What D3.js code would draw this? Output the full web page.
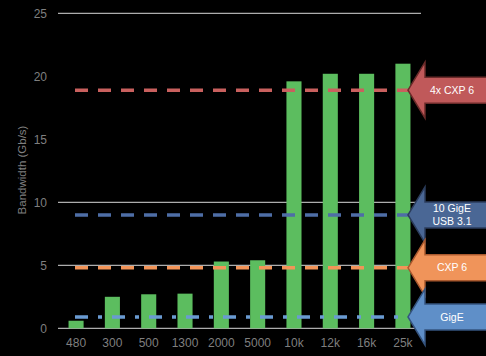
<!DOCTYPE html>
<html><head><meta charset="utf-8">
<script src="https://cdn.jsdelivr.net/npm/d3@7"></script>
<style>html,body{margin:0;padding:0;background:#000;}svg{display:block;}</style>
</head><body>
<script>
const categories = ["480","300","500","1300","2000","5000","10k","12k","16k","25k"];
const bandwidth = [0.6, 2.5, 2.7, 2.75, 5.3, 5.4, 19.6, 20.2, 20.2, 21.0];
const yTicks = [0, 5, 10, 15, 20, 25];
const gridValues = [0, 5, 10, 25];
const refNames = ["4x CXP 6", "10 GigE|USB 3.1", "CXP 6", "GigE"];
const refValues = [18.9, 9.0, 4.8, 0.9];
const refColors = ["#c9605e", "#4e6ea6", "#f29458", "#6a9bd2"];
const arrowFill = ["#c0595a", "#4a6795", "#f0945a", "#5f8fc8"];
const arrowStroke = ["#6b2b2a", "#2b3d5c", "#a9592e", "#35547f"];
const refDash = ["13,10", "13,10", "13,10", "13,10,4,10"];

const W = 486, H = 356;
const svg = d3.select("body").append("svg").attr("width", W).attr("height", H)
  .style("background", "#000");

const x = d3.scaleBand().domain(categories).range([58, 421]).paddingInner(0.585).paddingOuter(0.29);
const y = d3.scaleLinear().domain([0, 25]).range([328.3, 13.3]);

// grid lines
svg.append("g").selectAll("line").data(gridValues).join("line")
  .attr("x1", 58).attr("x2", 421)
  .attr("y1", d => y(d)).attr("y2", d => y(d))
  .attr("stroke", "#d9d9d9").attr("stroke-width", 1);

// y tick labels
svg.append("g").selectAll("text").data(yTicks).join("text")
  .attr("x", 47).attr("y", d => y(d)).attr("dy", "0.35em")
  .attr("text-anchor", "end")
  .attr("font-family", "Liberation Sans, Arial, sans-serif").attr("font-size", 12)
  .attr("fill", "#7f7f7f").text(d => d);

// x labels
svg.append("g").selectAll("text").data(categories).join("text")
  .attr("x", d => x(d) + x.bandwidth() / 2).attr("y", 347)
  .attr("text-anchor", "middle")
  .attr("font-family", "Liberation Sans, Arial, sans-serif").attr("font-size", 12)
  .attr("fill", "#7f7f7f").text(d => d);

// y axis title
svg.append("text")
  .attr("transform", "translate(26,170) rotate(-90)")
  .attr("text-anchor", "middle")
  .attr("font-family", "Liberation Sans, Arial, sans-serif").attr("font-size", 11.5)
  .attr("fill", "#7f7f7f").text("Bandwidth (Gb/s)");

// bars
svg.append("g").selectAll("rect").data(bandwidth).join("rect")
  .attr("x", (d, i) => x(categories[i]))
  .attr("width", x.bandwidth())
  .attr("y", d => y(d))
  .attr("height", d => y(0) - y(d))
  .attr("fill", "#5cbd5f");

// reference dashed lines
svg.append("g").selectAll("line").data(refValues).join("line")
  .attr("x1", 75).attr("x2", 408)
  .attr("y1", d => y(d)).attr("y2", d => y(d))
  .attr("stroke", (d, i) => refColors[i]).attr("stroke-width", 3.5)
  .attr("stroke-dasharray", (d, i) => refDash[i]);

// arrows
const tipX = 408, backX = 425, endX = 490, headH = 28, bodyH = 13;
const ag = svg.append("g").selectAll("g").data(refValues).join("g");
ag.append("path")
  .attr("d", d => {
    const cy = y(d);
    return `M${tipX},${cy} L${backX},${cy - headH} L${backX},${cy - bodyH} L${endX},${cy - bodyH} L${endX},${cy + bodyH} L${backX},${cy + bodyH} L${backX},${cy + headH} Z`;
  })
  .attr("fill", (d, i) => arrowFill[i])
  .attr("stroke", (d, i) => arrowStroke[i]).attr("stroke-width", 1.5);
ag.each(function(d, i) {
  const lines = refNames[i].split("|");
  const cy = y(d);
  const t = d3.select(this).append("text")
    .attr("text-anchor", "middle")
    .attr("font-family", "Liberation Sans, Arial, sans-serif").attr("font-size", 10.5)
    .attr("fill", "#ffffff");
  lines.forEach((ln, k) => {
    t.append("tspan").attr("x", 452)
      .attr("y", cy + (k - (lines.length - 1) / 2) * 13)
      .attr("dy", "0.35em").text(ln);
  });
});
</script>
</body></html>
